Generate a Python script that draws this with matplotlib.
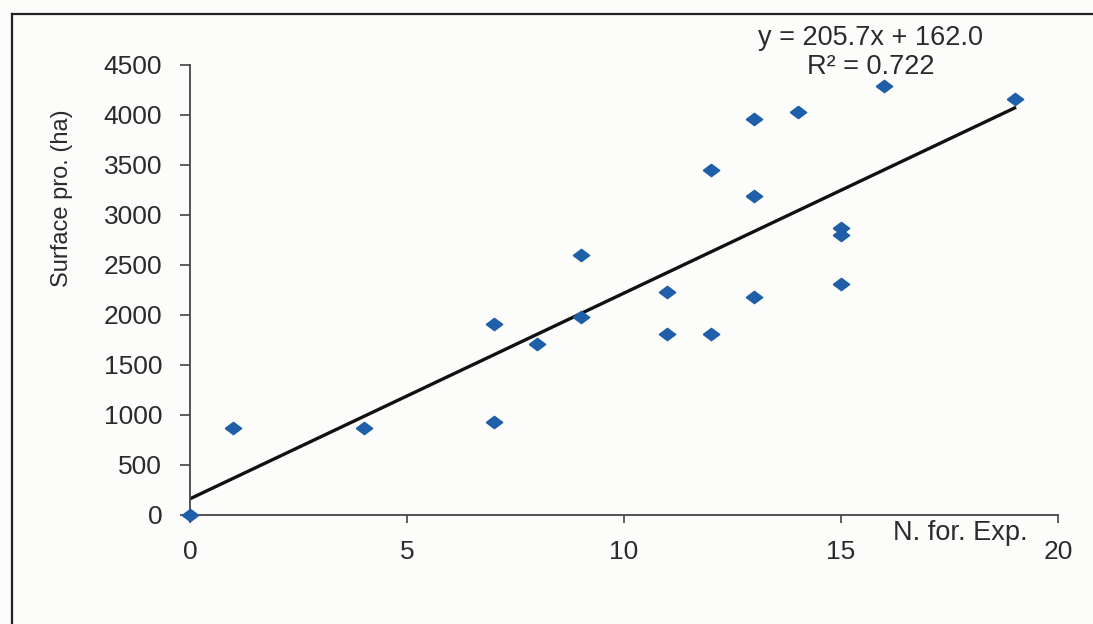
#  Scatter of surface vs number of forestry experiments, with linear trend line.

import numpy as np
import matplotlib
matplotlib.use('Agg')
import matplotlib.pyplot as plt
from matplotlib.lines import Line2D

plt.rcParams['font.family'] = ['Liberation Sans', 'DejaVu Sans']

# data
n_exp   = [0, 1, 4, 7, 7, 8, 9, 9, 11, 11, 12, 12, 13, 13, 13, 14, 15, 15, 15, 16, 19]
surface = [0, 870, 870, 1910, 930, 1710, 2600, 1980, 2230, 1810, 3450, 1810,
           3960, 3190, 2180, 4030, 2870, 2800, 2310, 4290, 4160]

slope, intercept = 205.7, 162.0          # trend line as printed on chart
r2 = 0.722
x_ticks = [0, 5, 10, 15, 20]
y_ticks = [0, 500, 1000, 1500, 2000, 2500, 3000, 3500, 4000, 4500]

text_col = '#2b2b2b'
dot_col = '#1f5ea8'

fig = plt.figure(figsize=(10.93, 6.24), dpi=100, facecolor='#fcfdfb')
ax = fig.add_axes([190/1093, 1 - 515/624, (1058 - 190)/1093, (515 - 65)/624])
ax.set_facecolor('none')

# trend line from 0 to max x
xl = np.array([0, max(n_exp)])
ax.plot(xl, slope*xl + intercept, color='#111111', lw=2.4, zorder=2)

# flattened diamond marker
diamond = [(-1, 0), (0, 0.75), (1, 0), (0, -0.75), (-1, 0)]
ax.scatter(n_exp, surface, marker=diamond, s=140, color=dot_col, zorder=3, clip_on=False)

ax.set_xlim(0, 20)
ax.set_ylim(0, 4500)
ax.set_xticks(x_ticks)
ax.set_yticks(y_ticks)
for s in ['top', 'right']:
    ax.spines[s].set_visible(False)
for s in ['left', 'bottom']:
    ax.spines[s].set_color('#444444')
    ax.spines[s].set_linewidth(1.3)
ax.tick_params(axis='y', direction='out', length=7, width=1.2, pad=13,
               labelsize=19, colors='#444444', labelcolor=text_col)
ax.tick_params(axis='x', direction='out', length=6, width=1.2, pad=12,
               labelsize=19, colors='#444444', labelcolor=text_col)

# axis titles placed like the original
fig.text(62/1093, 1 - 198/624, 'Surface pro. (ha)', rotation=90, ha='center',
         va='center', fontsize=17, color=text_col)
fig.text(893/1093, 1 - 520/624, 'N. for. Exp.', ha='left', va='top',
         fontsize=19.5, color=text_col)

# equation box
fig.text(870/1093, 1 - 38/624, 'y = %.1fx + %.1f' % (slope, intercept),
         ha='center', va='center', fontsize=19.5, color=text_col)
fig.text(871/1093, 1 - 67/624, 'R² = %.3f' % r2,
         ha='center', va='center', fontsize=19.5, color=text_col)

# outer frame lines (scan border)
fig.add_artist(Line2D([12/1093, 12/1093], [0, 1 - 14/624], transform=fig.transFigure,
                      color='#222222', lw=1.6))
fig.add_artist(Line2D([12/1093, 1], [1 - 14/624, 1 - 14/624], transform=fig.transFigure,
                      color='#222222', lw=1.6))

fig.savefig('out.png', dpi=100, facecolor=fig.get_facecolor())
